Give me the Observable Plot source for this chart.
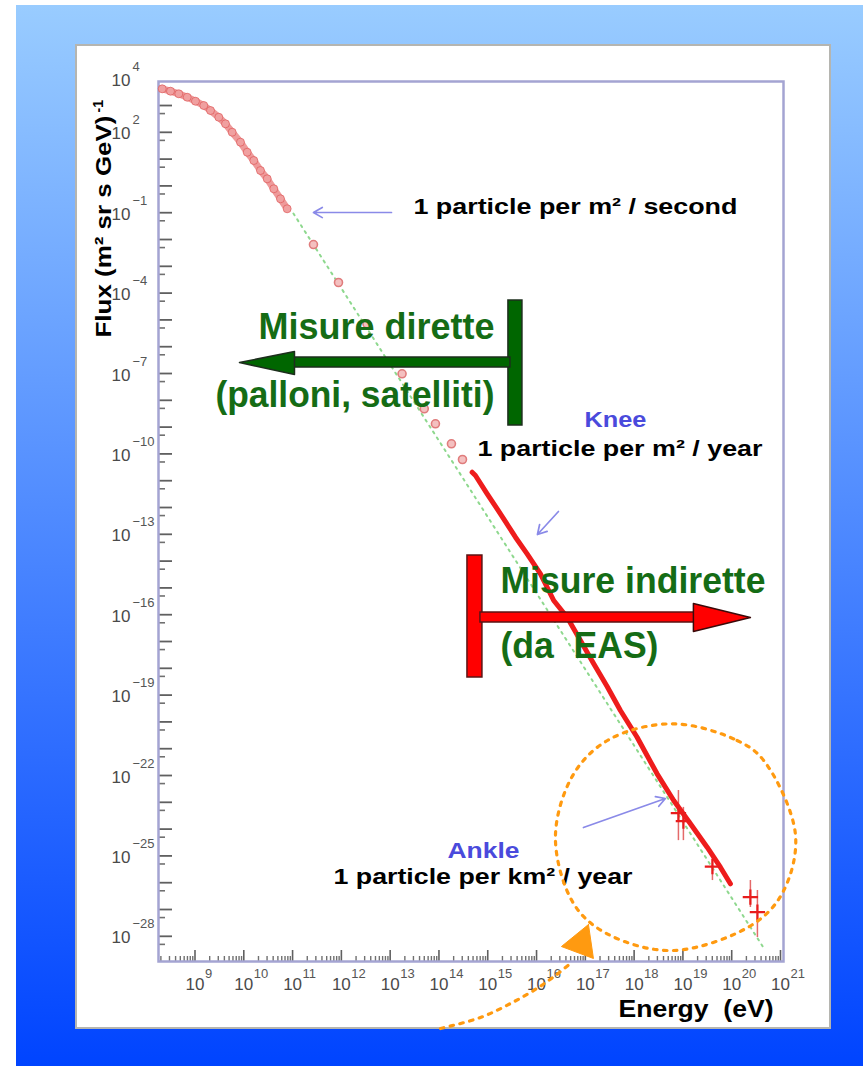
<!DOCTYPE html>
<html>
<head>
<meta charset="utf-8">
<script src="https://cdn.jsdelivr.net/npm/d3@7"></script>
<script src="https://cdn.jsdelivr.net/npm/@observablehq/plot@0.6"></script>
<style>
html, body { margin: 0; padding: 0; background: #fff; width: 863px; height: 1066px; overflow: hidden; }
#bg { position: absolute; left: 16px; top: 5px; width: 847px; height: 1061px; background: linear-gradient(#99ccff, #0044ff); }
#panel { position: absolute; left: 75px; top: 44px; width: 752px; height: 981px; background: #fff; border: 2px solid #b5b5b0; }
#chart { position: absolute; left: 0; top: 0; }
</style>
</head>
<body>
<div id="bg"></div>
<div id="panel"></div>
<div id="chart"></div>
<script>
// ---------------- DATA (log10 values) ----------------
// Direct measurements, dense low-energy band: log10 E (eV), log10 flux
const directLogE    = [8.328, 8.498, 8.668, 8.840, 9.010, 9.180, 9.318, 9.488, 9.625, 9.762, 9.932, 10.070, 10.205, 10.342, 10.480, 10.615, 10.752, 10.889];
const directLogFlux = [3.623, 3.534, 3.437, 3.310, 3.160, 3.000, 2.813, 2.563, 2.317, 2.004, 1.631, 1.257, 0.948, 0.575, 0.265, -0.108, -0.481, -0.854];
// Sparse points (balloons / satellites at higher energy)
const sparseLogE    = [11.428, 11.941, 12.525, 13.244, 13.699, 13.928, 14.256, 14.482];
const sparseLogFlux = [-2.187, -3.604, -5.146, -7.011, -8.317, -8.877, -9.623, -10.209];
// Extensive air shower measurements
const easLogE    = [14.680, 14.748, 14.988, 15.260, 15.568, 15.807, 16.080, 16.352, 16.627, 16.900, 17.172, 17.447, 17.719, 18.061, 18.471, 18.811, 19.154, 19.496, 19.768, 19.973];
const easLogFlux = [-10.683, -10.806, -11.489, -12.235, -13.108, -13.728, -14.474, -15.470, -16.093, -16.963, -17.832, -18.679, -19.575, -20.571, -21.937, -22.933, -23.802, -24.675, -25.421, -26.041];
// Highest-energy points with error bars
const uheLogE    = [18.908, 19.010, 19.605, 20.383, 20.527];
const uheLogFlux = [-23.40, -23.70, -25.40, -26.541, -27.101];
const uheLogLow  = [-24.43, -24.43, -25.92, -26.925, -28.045];
const uheLogHigh = [-22.56, -23.19, -24.99, -25.918, -26.291];
// Power-law fit (green dotted)
const fitLogE    = [11.018, 20.65];
const fitLogFlux = [-1.030, -28.418];
// Axis tick labels (exponents)
const xLabelExps = [9, 10, 11, 12, 13, 14, 15, 16, 17, 18, 19, 20, 21];
const yLabelExps = [4, 2, -1, -4, -7, -10, -13, -16, -19, -22, -25, -28];
const minorFactors = [2, 3, 4, 5, 6, 7, 8, 9];

// Annotation texts
const blackNotes = ["1 particle per m\u00b2 / second", "1 particle per m\u00b2 / year", "1 particle per km\u00b2 / year"];
const blueNotes  = ["Knee", "Ankle"];
const greenNotesLeft  = ["Misure dirette", "(palloni, satelliti)"];
const greenNotesRight = ["Misure indirette", "(da\u00a0 EAS)"];
const yTitle = "Flux (m\u00b2 sr s GeV)";
const yTitleExp = "-1";
const xTitle = "Energy  (eV)";

// ---------------- ANNOTATION LAYOUT (data coordinates, log10) ----------------
const blackNotePos = [[13.477, -1.030], [14.789, -10.060], [11.838, -26.030]];
const blueNotePos  = [[17.617, -8.978], [14.912, -25.060]];
const greenLeftPos  = [[15.137, -5.694], [15.137, -8.231]];
const greenRightPos = [[15.260, -15.172], [15.260, -17.597]];
const blueArrows = [[13.027, -0.993, 11.428, -0.993], [16.449, -12.149, 16.018, -13.007], [16.961, -23.940, 18.641, -22.858]];
const greenBar   = [[15.424, 15.711, -4.276, -8.940], [10.752, 15.465, -6.403, -6.776]];
const greenHead  = [[9.912, -6.590], [11.039, -6.179], [11.039, -7.037], [9.912, -6.590]];
const redBar     = [[14.584, 14.891, -13.791, -18.343], [14.850, 19.359, -15.918, -16.291]];
const redHead    = [[20.383, -16.104], [19.215, -15.582], [19.215, -16.627], [20.383, -16.104]];
const ovalPts = [[18.811, -20.071], [20.111, -20.694], [20.656, -21.440], [21.305, -24.175], [21.066, -26.291], [20.451, -27.534],
                 [18.811, -28.530], [17.447, -27.907], [16.762, -26.787], [16.387, -24.302], [16.762, -21.937], [17.514, -20.631]];
const orangeCurve = [[14.031, -31.440], [14.850, -31.030], [15.506, -30.470], [16.039, -29.910], [16.387, -29.463], [16.695, -29.015]];
const orangeHead  = [[17.064, -27.560], [16.510, -28.381], [17.166, -28.828], [17.064, -27.560]];

// fitted text widths (px)
const textWidths = new Map([
  [greenNotesLeft[0], 236], [greenNotesLeft[1], 279], [greenNotesRight[0], 265], [greenNotesRight[1], 158],
  [blackNotes[0], 324], [blackNotes[1], 285], [blackNotes[2], 299],
  [blueNotes[0], 62], [blueNotes[1], 72],
  [yTitle, 222], [xTitle, 155]
]);

// ---------------- BUILD TABLES ----------------
const p = (e, f) => ({E: 10 ** e, F: 10 ** f});
const direct = directLogE.map((e, i) => p(e, directLogFlux[i]));
const sparse = sparseLogE.map((e, i) => p(e, sparseLogFlux[i]));
const eas = easLogE.map((e, i) => p(e, easLogFlux[i]));
const uhe = uheLogE.map((e, i) => ({E: 10 ** e, F: 10 ** uheLogFlux[i], lo: 10 ** uheLogLow[i], hi: 10 ** uheLogHigh[i]}));
const fit = fitLogE.map((e, i) => p(e, fitLogFlux[i]));

const xDomain = [10 ** 8.252, 10 ** 21.0615];
const yDomain = [10 ** -28.94, 10 ** 3.896];
const xMajor = d3.range(9, 22).map(n => 10 ** n);
const xMinor = d3.range(8, 21).flatMap(n => minorFactors.map(k => k * 10 ** n)).filter(v => v > xDomain[0] && v < xDomain[1]);
const yMajor = d3.range(-28, 4).map(n => 10 ** n);
const yMinor = d3.range(-28, 5).map(n => 0.5 * 10 ** n).filter(v => v > yDomain[0] && v < yDomain[1]);

const font = "Liberation Sans, Arial, Helvetica, sans-serif";
const W = 863, H = 1066, mL = 158, mR = 80, mT = 81, mB = 105;
const frameW = W - mL - mR, frameH = H - mT - mB;

const pts = a => a.map(([e, f]) => p(e, f));
const sup = d => String(d).replace("-", "\u2212");

const svg = Plot.plot({
  width: W, height: H,
  marginLeft: mL, marginRight: mR, marginTop: mT, marginBottom: mB,
  x: {type: "log", domain: xDomain, axis: null},
  y: {type: "log", domain: yDomain, axis: null},
  style: {background: "transparent", overflow: "visible", fontFamily: font},
  marks: [
    // ticks (inward)
    Plot.tickX(xMinor, {x: d => d, insetTop: frameH - 5, stroke: "#707070", strokeWidth: 1.4}),
    Plot.tickX(xMajor, {x: d => d, insetTop: frameH - 11, stroke: "#606060", strokeWidth: 1.6}),
    Plot.tickY(yMinor, {y: d => d, insetRight: frameW - 7, stroke: "#707070", strokeWidth: 1.6}),
    Plot.tickY(yMajor, {y: d => d, insetRight: frameW - 14, stroke: "#606060", strokeWidth: 1.8}),
    Plot.frame({stroke: "#a4a4d2", strokeWidth: 2.5}),
    // tick labels
    Plot.text(xLabelExps, {x: d => 10 ** d, frameAnchor: "bottom", text: () => "10", dy: 28, lineAnchor: "bottom", fontSize: 17, fill: "#4a4a4a", fontFamily: font}),
    Plot.text(xLabelExps, {x: d => 10 ** d, frameAnchor: "bottom", text: sup, dx: 10, dy: 16, textAnchor: "start", lineAnchor: "bottom", fontSize: 13, fill: "#555", fontFamily: font}),
    Plot.text(yLabelExps, {y: d => 10 ** d, frameAnchor: "left", text: () => "10", dx: -28, dy: 7, textAnchor: "end", lineAnchor: "bottom", fontSize: 17, fill: "#4a4a4a", fontFamily: font}),
    Plot.text(yLabelExps, {y: d => 10 ** d, frameAnchor: "left", text: sup, dx: -26, dy: -8, textAnchor: "start", lineAnchor: "bottom", fontSize: 13, fill: "#555", fontFamily: font}),
    // axis titles
    Plot.text([yTitle], {text: d => d, frameAnchor: "left", dx: -48, dy: -184, rotate: -90, textAnchor: "start", lineAnchor: "bottom", fontSize: 22, fontWeight: "bold", fill: "#000", fontFamily: font}),
    Plot.text([yTitleExp], {text: d => d, frameAnchor: "left", dx: -56, dy: -409, rotate: -90, textAnchor: "start", lineAnchor: "bottom", fontSize: 14, fontWeight: "bold", fill: "#000", fontFamily: font}),
    Plot.text([xTitle], {text: d => d, frameAnchor: "bottom", dx: 147.5, dy: 55, textAnchor: "start", lineAnchor: "bottom", fontSize: 24, fontWeight: "bold", fill: "#000", fontFamily: font}),
    // fit
    Plot.line(fit, {x: "E", y: "F", stroke: "#8ed88e", strokeWidth: 2, strokeDasharray: "2 5"}),
    // data
    Plot.line(direct, {x: "E", y: "F", stroke: "#ee9a9a", strokeWidth: 7, strokeLinecap: "round"}),
    Plot.dot(direct, {x: "E", y: "F", r: 4, fill: "#f0a0a0", stroke: "#dc4c4c", strokeWidth: 1, strokeOpacity: 0.6}),
    Plot.dot(sparse, {x: "E", y: "F", r: 4, fill: "#f4c0c0", stroke: "#e07c7c", strokeWidth: 1.6}),
    Plot.ruleX(uhe, {x: "E", y1: "lo", y2: "hi", stroke: "#e46a6a", strokeWidth: 1.5}),
    Plot.line(eas, {x: "E", y: "F", stroke: "#ee1c1c", strokeWidth: 5, strokeLinejoin: "round", strokeLinecap: "round"}),
    Plot.dot(uhe, {x: "E", y: "F", symbol: "plus", r: 5, stroke: "#e81c1c", strokeWidth: 2.2}),
    // green T arrow
    Plot.rect(greenBar, {x1: d => 10 ** d[0], x2: d => 10 ** d[1], y1: d => 10 ** d[2], y2: d => 10 ** d[3], fill: "#006600", stroke: "#1d2e1d", strokeWidth: 1.5}),
    Plot.line(pts(greenHead), {x: "E", y: "F", fill: "#006600", stroke: "#1d2e1d", strokeWidth: 1.5}),
    // red T arrow
    Plot.rect(redBar, {x1: d => 10 ** d[0], x2: d => 10 ** d[1], y1: d => 10 ** d[2], y2: d => 10 ** d[3], fill: "#ff0000", stroke: "#5a1414", strokeWidth: 1.5}),
    Plot.line(pts(redHead), {x: "E", y: "F", fill: "#ff0000", stroke: "#3a0a0a", strokeWidth: 1.5}),
    // texts
    Plot.text(greenNotesLeft, {x: (d, i) => 10 ** greenLeftPos[i][0], y: (d, i) => 10 ** greenLeftPos[i][1], text: d => d,
      textAnchor: "end", lineAnchor: "bottom", fontSize: 36, fontWeight: "bold", fill: "#156c15", fontFamily: font}),
    Plot.text(greenNotesRight, {x: (d, i) => 10 ** greenRightPos[i][0], y: (d, i) => 10 ** greenRightPos[i][1], text: d => d,
      textAnchor: "start", lineAnchor: "bottom", fontSize: 36, fontWeight: "bold", fill: "#156c15", fontFamily: font}),
    Plot.text(blackNotes, {x: (d, i) => 10 ** blackNotePos[i][0], y: (d, i) => 10 ** blackNotePos[i][1], text: d => d,
      textAnchor: "start", lineAnchor: "bottom", fontSize: 22, fontWeight: "bold", fill: "#000", fontFamily: font}),
    Plot.text(blueNotes, {x: (d, i) => 10 ** blueNotePos[i][0], y: (d, i) => 10 ** blueNotePos[i][1], text: d => d,
      textAnchor: "middle", lineAnchor: "bottom", fontSize: 22, fontWeight: "bold", fill: "#4a4adc", fontFamily: font}),
    Plot.arrow(blueArrows, {x1: d => 10 ** d[0], y1: d => 10 ** d[1], x2: d => 10 ** d[2], y2: d => 10 ** d[3], stroke: "#8a8ae8", strokeWidth: 1.7, headLength: 9}),
    // orange circle and arrow
    Plot.line(pts(ovalPts), {x: "E", y: "F", curve: "catmull-rom-closed", stroke: "#ff9a10", strokeWidth: 3.2, strokeDasharray: "3.5 6.5", fill: "none"}),
    Plot.line(pts(orangeCurve), {x: "E", y: "F", curve: "catmull-rom", stroke: "#ff9a10", strokeWidth: 3.2, strokeDasharray: "3.5 6.5"}),
    Plot.line(pts(orangeHead), {x: "E", y: "F", fill: "#ff9a10", stroke: "#ff9a10", strokeWidth: 1})
  ]
});

// stretch texts to the widths seen in the reference
d3.select(svg).selectAll("text").each(function() {
  const w = textWidths.get(this.textContent);
  if (w != null) {
    this.setAttribute("textLength", w);
    this.setAttribute("lengthAdjust", "spacingAndGlyphs");
  }
});
document.getElementById("chart").append(svg);
</script>
</body>
</html>
